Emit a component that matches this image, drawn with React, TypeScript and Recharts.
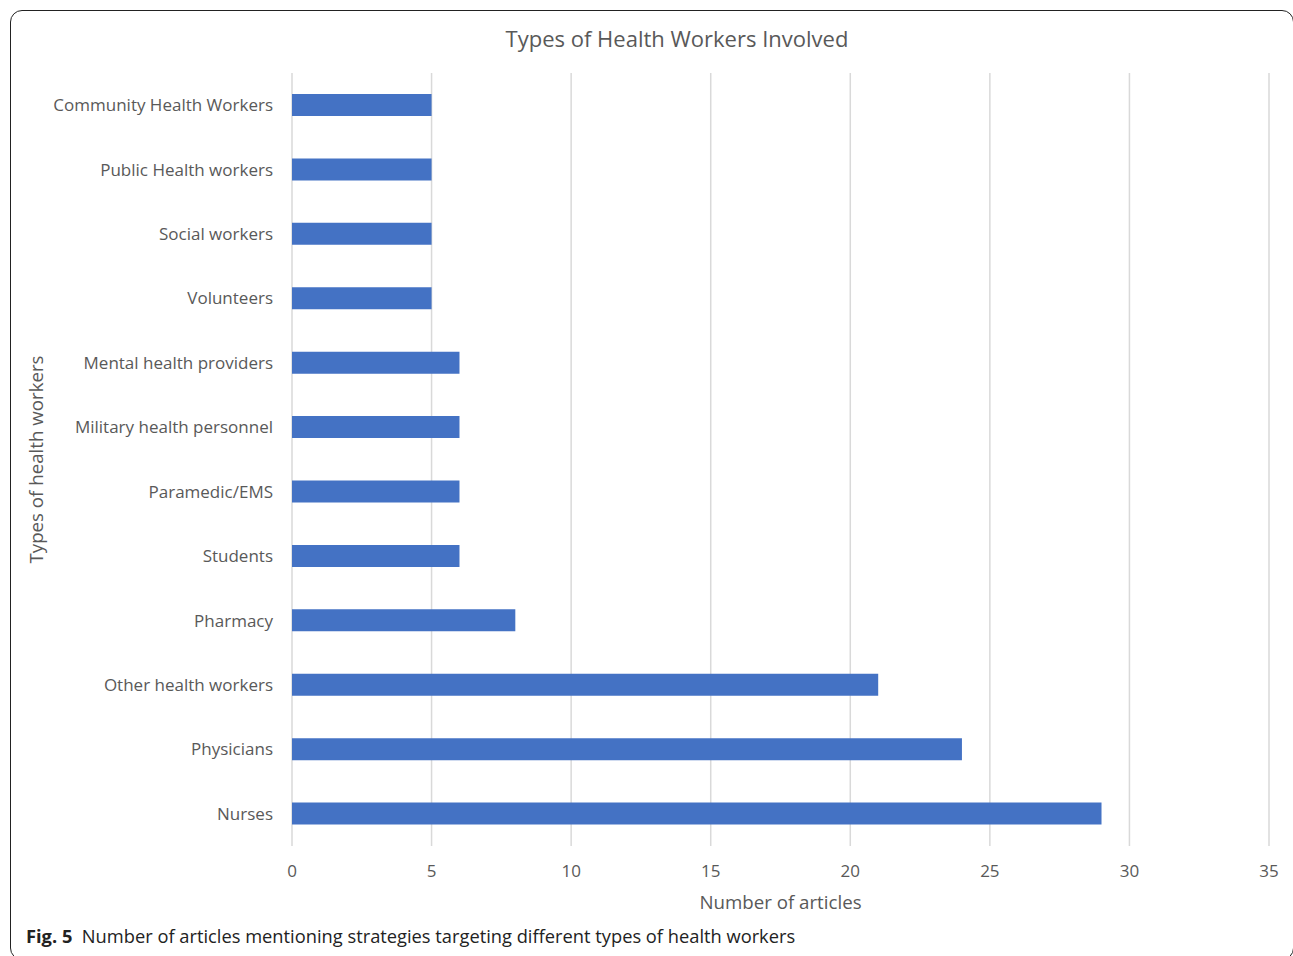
import { Bar, BarChart, CartesianGrid, Label, XAxis, YAxis } from "recharts";

const workerTypes = [
  "Community Health Workers",
  "Public Health workers",
  "Social workers",
  "Volunteers",
  "Mental health providers",
  "Military health personnel",
  "Paramedic/EMS",
  "Students",
  "Pharmacy",
  "Other health workers",
  "Physicians",
  "Nurses",
];

const articleCounts = [5, 5, 5, 5, 6, 6, 6, 6, 8, 21, 24, 29];

const xTicks = [0, 5, 10, 15, 20, 25, 30, 35];

const FONT = "'Open Sans', 'Noto Sans', sans-serif";
const TEXT = "#595959";

export default function App() {
  const data = workerTypes.map((name, i) => ({ name, count: articleCounts[i] }));

  return (
    <div
      style={{
        position: "absolute",
        left: 0,
        top: 0,
        width: 1293,
        height: 956,
        overflow: "hidden",
        background: "#fff",
        fontFamily: FONT,
      }}
    >
      <div
        style={{
          position: "absolute",
          left: 10,
          top: 10,
          width: 1284,
          height: 950,
          border: "1.5px solid #222",
          borderRadius: 12,
          boxSizing: "border-box",
        }}
      />
      <div
        style={{
          position: "absolute",
          left: 377,
          width: 600,
          top: 23,
          textAlign: "center",
          fontSize: 22,
          color: TEXT,
        }}
      >
        Types of Health Workers Involved
      </div>

      <div style={{ position: "absolute", left: 0, top: 0 }}>
        <BarChart
          width={1293}
          height={956}
          data={data}
          layout="vertical"
          barSize={22}
          margin={{ top: 73, right: 24, bottom: 40, left: 20 }}
        >
          <CartesianGrid horizontal={false} stroke="#D9D9D9" strokeWidth={1.5} />
          <XAxis
            type="number"
            domain={[0, 35]}
            ticks={xTicks}
            axisLine={false}
            tickLine={false}
            tickMargin={13}
            height={70}
            tick={{ fill: TEXT, fontSize: 17, fontFamily: FONT }}
          >
            <Label
              value="Number of articles"
              position="insideBottom"
              offset={7}
              style={{ fill: TEXT, fontSize: 18.7, fontFamily: FONT }}
            />
          </XAxis>
          <YAxis
            type="category"
            dataKey="name"
            width={272}
            axisLine={false}
            tickLine={false}
            tickSize={0}
            tickMargin={19}
            interval={0}
            tick={{ fill: TEXT, fontSize: 17, fontFamily: FONT }}
          >
            <Label
              value="Types of health workers"
              angle={-90}
              position="insideLeft"
              offset={16}
              style={{ fill: TEXT, fontSize: 18.7, fontFamily: FONT, textAnchor: "middle" }}
            />
          </YAxis>
          <Bar dataKey="count" fill="#4472C4" isAnimationActive={false} />
        </BarChart>
      </div>

      <div
        style={{
          position: "absolute",
          left: 26,
          top: 923,
          fontSize: 18.3,
          color: "#222",
          whiteSpace: "nowrap",
        }}
      >
        <b>Fig. 5</b>&nbsp;&nbsp;Number of articles mentioning strategies targeting different types of health workers
      </div>
    </div>
  );
}
